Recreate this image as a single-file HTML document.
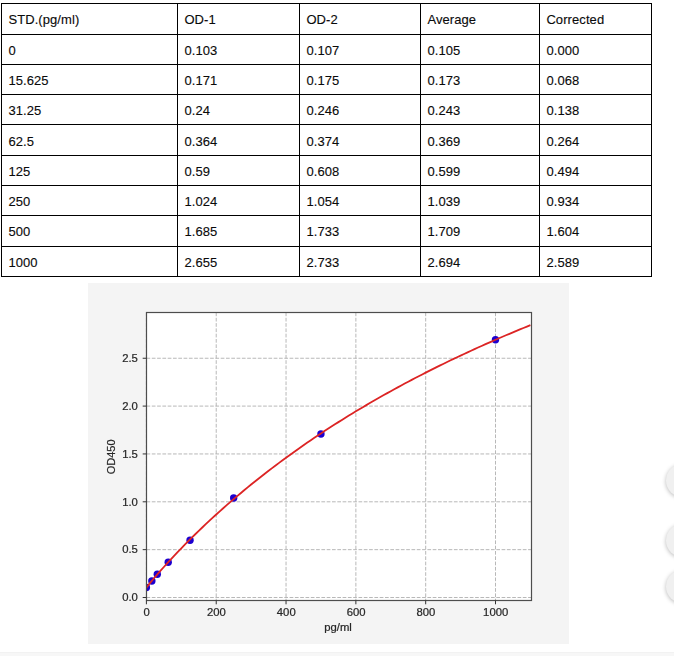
<!DOCTYPE html>
<html><head><meta charset="utf-8"><title>Standard curve</title>
<style>
html,body{margin:0;padding:0;background:#fff;}
body{width:674px;height:656px;position:relative;overflow:hidden;font-family:"Liberation Sans",sans-serif;}
.v,.h{position:absolute;background:#000;}
.t{position:absolute;font-size:13px;line-height:15px;color:#0a0a0a;white-space:nowrap;letter-spacing:0.08px;-webkit-text-stroke:0.12px #0a0a0a;}
.panel{position:absolute;left:88px;top:283px;width:481px;height:361px;background:#f4f4f4;}
.strip{position:absolute;left:0;top:652px;width:674px;height:4px;background:#f7f7f7;border-top:1px solid #f2f2f2;box-sizing:border-box;}
.fab{position:absolute;width:33px;height:33px;border-radius:50%;background:#f0f0f0;box-shadow:0 1px 4px rgba(0,0,0,0.28);}
svg{position:absolute;left:0;top:0;}
svg text{font-family:"Liberation Sans",sans-serif;font-size:10.1px;fill:#222;stroke:#222;stroke-width:0.22px;}
</style></head><body>

<div class="v" style="left:1px;top:3px;width:1px;height:274px"></div>
<div class="v" style="left:177px;top:3px;width:1px;height:274px"></div>
<div class="v" style="left:299px;top:3px;width:1px;height:274px"></div>
<div class="v" style="left:420px;top:3px;width:1px;height:274px"></div>
<div class="v" style="left:539px;top:3px;width:1px;height:274px"></div>
<div class="v" style="left:651px;top:3px;width:1px;height:274px"></div>
<div class="h" style="left:1px;top:3px;width:651px;height:1px"></div>
<div class="h" style="left:1px;top:34px;width:651px;height:1px"></div>
<div class="h" style="left:1px;top:64px;width:651px;height:1px"></div>
<div class="h" style="left:1px;top:94px;width:651px;height:1px"></div>
<div class="h" style="left:1px;top:124px;width:651px;height:1px"></div>
<div class="h" style="left:1px;top:155px;width:651px;height:1px"></div>
<div class="h" style="left:1px;top:185px;width:651px;height:1px"></div>
<div class="h" style="left:1px;top:215px;width:651px;height:1px"></div>
<div class="h" style="left:1px;top:246px;width:651px;height:1px"></div>
<div class="h" style="left:1px;top:276px;width:651px;height:1px"></div>
<div class="t" style="left:8.4px;top:12px">STD.(pg/ml)</div>
<div class="t" style="left:184.4px;top:12px">OD-1</div>
<div class="t" style="left:306.4px;top:12px">OD-2</div>
<div class="t" style="left:427.4px;top:12px">Average</div>
<div class="t" style="left:546.4px;top:12px">Corrected</div>
<div class="t" style="left:8.4px;top:43px">0</div>
<div class="t" style="left:184.4px;top:43px">0.103</div>
<div class="t" style="left:306.4px;top:43px">0.107</div>
<div class="t" style="left:427.4px;top:43px">0.105</div>
<div class="t" style="left:546.4px;top:43px">0.000</div>
<div class="t" style="left:8.4px;top:73px">15.625</div>
<div class="t" style="left:184.4px;top:73px">0.171</div>
<div class="t" style="left:306.4px;top:73px">0.175</div>
<div class="t" style="left:427.4px;top:73px">0.173</div>
<div class="t" style="left:546.4px;top:73px">0.068</div>
<div class="t" style="left:8.4px;top:103px">31.25</div>
<div class="t" style="left:184.4px;top:103px">0.24</div>
<div class="t" style="left:306.4px;top:103px">0.246</div>
<div class="t" style="left:427.4px;top:103px">0.243</div>
<div class="t" style="left:546.4px;top:103px">0.138</div>
<div class="t" style="left:8.4px;top:134px">62.5</div>
<div class="t" style="left:184.4px;top:134px">0.364</div>
<div class="t" style="left:306.4px;top:134px">0.374</div>
<div class="t" style="left:427.4px;top:134px">0.369</div>
<div class="t" style="left:546.4px;top:134px">0.264</div>
<div class="t" style="left:8.4px;top:164px">125</div>
<div class="t" style="left:184.4px;top:164px">0.59</div>
<div class="t" style="left:306.4px;top:164px">0.608</div>
<div class="t" style="left:427.4px;top:164px">0.599</div>
<div class="t" style="left:546.4px;top:164px">0.494</div>
<div class="t" style="left:8.4px;top:194px">250</div>
<div class="t" style="left:184.4px;top:194px">1.024</div>
<div class="t" style="left:306.4px;top:194px">1.054</div>
<div class="t" style="left:427.4px;top:194px">1.039</div>
<div class="t" style="left:546.4px;top:194px">0.934</div>
<div class="t" style="left:8.4px;top:224px">500</div>
<div class="t" style="left:184.4px;top:224px">1.685</div>
<div class="t" style="left:306.4px;top:224px">1.733</div>
<div class="t" style="left:427.4px;top:224px">1.709</div>
<div class="t" style="left:546.4px;top:224px">1.604</div>
<div class="t" style="left:8.4px;top:255px">1000</div>
<div class="t" style="left:184.4px;top:255px">2.655</div>
<div class="t" style="left:306.4px;top:255px">2.733</div>
<div class="t" style="left:427.4px;top:255px">2.694</div>
<div class="t" style="left:546.4px;top:255px">2.589</div>
<div class="panel"></div>
<div class="strip"></div>
<div class="fab" style="left:666px;top:464.0px"></div>
<div class="fab" style="left:666px;top:523.5px"></div>
<div class="fab" style="left:666px;top:569.5px"></div>
<svg width="674" height="656" viewBox="0 0 674 656">
<rect x="146.5" y="312.5" width="385.0" height="288.0" fill="#ffffff"/>
<path d="M146.40,312.5 V600.5 M216.22,312.5 V600.5 M286.04,312.5 V600.5 M355.86,312.5 V600.5 M425.68,312.5 V600.5 M495.50,312.5 V600.5 M146.5,597.50 H531.5 M146.5,549.65 H531.5 M146.5,501.80 H531.5 M146.5,453.95 H531.5 M146.5,406.10 H531.5 M146.5,358.25 H531.5" stroke="#b0b0b0" stroke-width="0.9" stroke-dasharray="3.7 1.6" fill="none"/>
<clipPath id="cp"><rect x="146.5" y="312.5" width="385.0" height="288.0"/></clipPath>
<g clip-path="url(#cp)" fill="#1c00d0">
<circle cx="146.40" cy="587.45" r="3.7"/>
<circle cx="151.85" cy="580.94" r="3.7"/>
<circle cx="157.31" cy="574.24" r="3.7"/>
<circle cx="168.22" cy="562.19" r="3.7"/>
<circle cx="190.04" cy="540.18" r="3.7"/>
<circle cx="233.68" cy="498.07" r="3.7"/>
<circle cx="320.95" cy="433.95" r="3.7"/>
<circle cx="495.50" cy="339.68" r="3.7"/>
</g>
<path clip-path="url(#cp)" d="M146.40,587.58 L149.89,583.18 L153.38,578.99 L156.87,574.91 L160.36,570.91 L163.86,566.99 L167.35,563.13 L170.84,559.33 L174.33,555.60 L177.82,551.91 L181.31,548.28 L184.80,544.70 L188.29,541.17 L191.78,537.69 L195.27,534.25 L198.77,530.86 L202.26,527.51 L205.75,524.20 L209.24,520.93 L212.73,517.70 L216.22,514.51 L219.71,511.36 L223.20,508.24 L226.69,505.16 L230.18,502.12 L233.68,499.11 L237.17,496.13 L240.66,493.19 L244.15,490.28 L247.64,487.40 L251.13,484.56 L254.62,481.74 L258.11,478.95 L261.60,476.20 L265.09,473.47 L268.59,470.77 L272.08,468.10 L275.57,465.46 L279.06,462.85 L282.55,460.26 L286.04,457.69 L289.53,455.16 L293.02,452.65 L296.51,450.16 L300.00,447.70 L303.50,445.26 L306.99,442.84 L310.48,440.45 L313.97,438.09 L317.46,435.74 L320.95,433.42 L324.44,431.12 L327.93,428.84 L331.42,426.58 L334.91,424.34 L338.41,422.13 L341.90,419.93 L345.39,417.75 L348.88,415.60 L352.37,413.46 L355.86,411.34 L359.35,409.24 L362.84,407.16 L366.33,405.10 L369.82,403.06 L373.32,401.03 L376.81,399.03 L380.30,397.04 L383.79,395.06 L387.28,393.11 L390.77,391.17 L394.26,389.25 L397.75,387.34 L401.24,385.45 L404.73,383.57 L408.23,381.71 L411.72,379.87 L415.21,378.04 L418.70,376.23 L422.19,374.43 L425.68,372.65 L429.17,370.88 L432.66,369.12 L436.15,367.38 L439.64,365.65 L443.13,363.94 L446.63,362.24 L450.12,360.55 L453.61,358.88 L457.10,357.22 L460.59,355.58 L464.08,353.94 L467.57,352.32 L471.06,350.71 L474.55,349.11 L478.05,347.53 L481.54,345.96 L485.03,344.40 L488.52,342.85 L492.01,341.31 L495.50,339.79 L498.99,338.27 L502.48,336.77 L505.97,335.28 L509.46,333.80 L512.96,332.33 L516.45,330.87 L519.94,329.42 L523.43,327.98 L526.92,326.55 L530.41,325.13" stroke="#dc2424" stroke-width="1.8" fill="none" stroke-linejoin="round"/>
<rect x="146.5" y="312.5" width="385.0" height="288.0" fill="none" stroke="#4d4d4d" stroke-width="1.2"/>
<path d="M146.40,600.5 v3.8 M216.22,600.5 v3.8 M286.04,600.5 v3.8 M355.86,600.5 v3.8 M425.68,600.5 v3.8 M495.50,600.5 v3.8 M146.5,597.50 h-3.8 M146.5,549.65 h-3.8 M146.5,501.80 h-3.8 M146.5,453.95 h-3.8 M146.5,406.10 h-3.8 M146.5,358.25 h-3.8" stroke="#333333" stroke-width="1" fill="none"/>
<g opacity="0.97">
<text transform="translate(146.60,616) scale(1.12,1)" text-anchor="middle">0</text>
<text transform="translate(216.42,616) scale(1.12,1)" text-anchor="middle">200</text>
<text transform="translate(286.24,616) scale(1.12,1)" text-anchor="middle">400</text>
<text transform="translate(356.06,616) scale(1.12,1)" text-anchor="middle">600</text>
<text transform="translate(425.88,616) scale(1.12,1)" text-anchor="middle">800</text>
<text transform="translate(495.70,616) scale(1.12,1)" text-anchor="middle">1000</text>
<text transform="translate(137.9,601.30) scale(1.12,1)" text-anchor="end">0.0</text>
<text transform="translate(137.9,553.45) scale(1.12,1)" text-anchor="end">0.5</text>
<text transform="translate(137.9,505.60) scale(1.12,1)" text-anchor="end">1.0</text>
<text transform="translate(137.9,457.75) scale(1.12,1)" text-anchor="end">1.5</text>
<text transform="translate(137.9,409.90) scale(1.12,1)" text-anchor="end">2.0</text>
<text transform="translate(137.9,362.05) scale(1.12,1)" text-anchor="end">2.5</text>
<text transform="translate(338,631) scale(1.12,1)" text-anchor="middle">pg/ml</text>
<text transform="translate(115,456.9) rotate(-90) scale(1.09,1)" text-anchor="middle">OD450</text>
</g>
</svg>
</body></html>
